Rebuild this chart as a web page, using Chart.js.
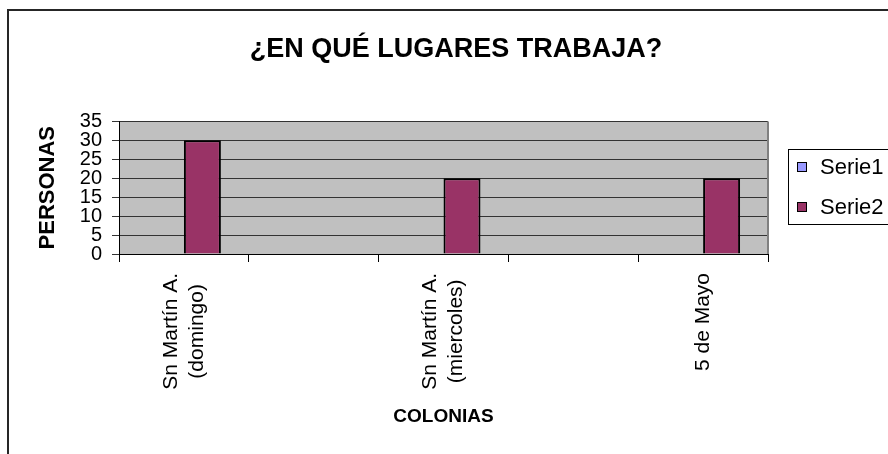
<!DOCTYPE html>
<html>
<head>
    <meta charset="utf-8">
    <title>¿EN QUÉ LUGARES TRABAJA?</title>
    <script src="https://cdn.jsdelivr.net/npm/chart.js"></script>
    <style>
        body { margin: 0; background: #fff; }
        canvas { display: block; }
    </style>
</head>
<body>

    <canvas id="chart" width="888" height="454"></canvas>

    <script>
        // Data
        var colonias = [["Sn Martín A.", "(domingo)"], "", ["Sn Martín A.", "(miercoles)"], "", "5 de Mayo"];
        var serie1 = [null, null, null, null, null];
        var serie2 = [30, null, 20, null, 20];
        var yTicks = [0, 5, 10, 15, 20, 25, 30, 35];

        var font = "'Liberation Sans', Arial, sans-serif";

        // gray plot background + gray right edge
        var plotArea = {
            id: "plotArea",
            beforeDraw: function (chart) {
                var a = chart.chartArea, ctx = chart.ctx;
                ctx.save();
                ctx.fillStyle = "#c0c0c0";
                ctx.fillRect(a.left, a.top, a.right - a.left, a.bottom - a.top);
                ctx.restore();
            },
            afterDatasetsDraw: function (chart) {
                var a = chart.chartArea, ctx = chart.ctx;
                ctx.save();
                ctx.strokeStyle = "#808080";
                ctx.lineWidth = 2;
                ctx.beginPath();
                ctx.moveTo(a.right, a.top);
                ctx.lineTo(a.right, a.bottom);
                ctx.stroke();
                ctx.restore();
            }
        };

        // category labels, rotated, lines centred like Excel does
        var xLabels = {
            id: "xLabels",
            afterDraw: function (chart) {
                var xs = chart.scales.x, ctx = chart.ctx;
                var lh = 26;
                ctx.save();
                ctx.font = "21px " + font;
                ctx.fillStyle = "#000";
                ctx.textAlign = "center";
                ctx.textBaseline = "middle";
                colonias.forEach(function (lab, i) {
                    var lines = [].concat(lab);
                    if (!lines[0]) return;
                    var maxW = Math.max.apply(null, lines.map(function (l) { return ctx.measureText(l).width; }));
                    var x = xs.getPixelForTick(i);
                    var y = xs.top + 19 + maxW / 2;
                    ctx.save();
                    ctx.translate(x, y);
                    ctx.rotate(-Math.PI / 2);
                    lines.forEach(function (l, j) {
                        ctx.fillText(l, 0, (j - (lines.length - 1) / 2) * lh);
                    });
                    ctx.restore();
                });
                ctx.restore();
            }
        };

        // boxed legend + outer frame
        var boxLegend = {
            id: "boxLegend",
            afterDraw: function (chart) {
                var ctx = chart.ctx;
                ctx.save();
                ctx.strokeStyle = "#000";
                ctx.lineWidth = 1;
                ctx.strokeRect(788.5, 149.5, 130, 75);
                ctx.font = "22px " + font;
                ctx.textBaseline = "middle";
                chart.data.datasets.forEach(function (ds, i) {
                    var cy = 167 + i * 40;
                    ctx.fillStyle = ds.backgroundColor;
                    ctx.fillRect(797, cy - 5, 10, 10);
                    ctx.strokeRect(797.5, cy - 4.5, 9, 9);
                    ctx.fillStyle = "#000";
                    ctx.fillText(ds.label, 820, cy + 1);
                });

                ctx.strokeStyle = "#262626";
                ctx.lineWidth = 2;
                ctx.beginPath();
                ctx.moveTo(8, 460);
                ctx.lineTo(8, 10);
                ctx.lineTo(900, 10);
                ctx.stroke();
                ctx.restore();
            }
        };

        var chart = new Chart(document.getElementById("chart"), {
            type: "bar",
            data: {
                labels: colonias,
                datasets: [
                    {
                        label: "Serie1",
                        data: serie1,
                        backgroundColor: "#9999ff",
                        borderColor: "#000",
                        borderWidth: 2
                    },
                    {
                        label: "Serie2",
                        data: serie2,
                        backgroundColor: "#993366",
                        borderColor: "#000",
                        borderWidth: 2
                    }
                ]
            },
            options: {
                responsive: false,
                animation: false,
                layout: { padding: { left: 24, right: 0, top: 0, bottom: 0 } },
                datasets: {
                    bar: { categoryPercentage: 0.57, barPercentage: 1 }
                },
                plugins: {
                    legend: { display: false },
                    tooltip: { enabled: false },
                    title: {
                        display: true,
                        text: "¿EN QUÉ LUGARES TRABAJA?",
                        color: "#000",
                        font: { family: font, size: 27, weight: "bold" },
                        padding: { top: 33, bottom: 56 }
                    }
                },
                scales: {
                    x: {
                        offset: true,
                        grid: { display: true, drawOnChartArea: false, offset: true, tickLength: 8, color: "#000" },
                        border: { display: true, color: "#000", width: 1 },
                        ticks: { display: false },
                        title: {
                            display: true,
                            text: "COLONIAS",
                            color: "#000",
                            font: { family: font, size: 19, weight: "bold" },
                            padding: { top: 0, bottom: 26 }
                        },
                        afterFit: function (s) { s.height = 200; }
                    },
                    y: {
                        min: 0,
                        max: 35,
                        afterBuildTicks: function (s) {
                            s.ticks = yTicks.map(function (v) { return { value: v }; });
                        },
                        grid: { color: "#333", tickLength: 7 },
                        border: { display: true, color: "#000", width: 1 },
                        ticks: {
                            stepSize: 5,
                            autoSkip: false,
                            padding: 10,
                            color: "#000",
                            font: { family: font, size: 20 }
                        },
                        title: {
                            display: true,
                            text: "PERSONAS",
                            color: "#000",
                            font: { family: font, size: 22, weight: "bold" },
                            padding: { top: 11, bottom: 0 }
                        },
                        afterFit: function (s) { s.width = 95; }
                    },
                    y2: {
                        position: "right",
                        display: true,
                        grid: { display: false },
                        border: { display: false },
                        ticks: { display: false },
                        afterFit: function (s) { s.width = 120; }
                    }
                }
            },
            plugins: [plotArea, xLabels, boxLegend]
        });
    </script>

</body>
</html>
